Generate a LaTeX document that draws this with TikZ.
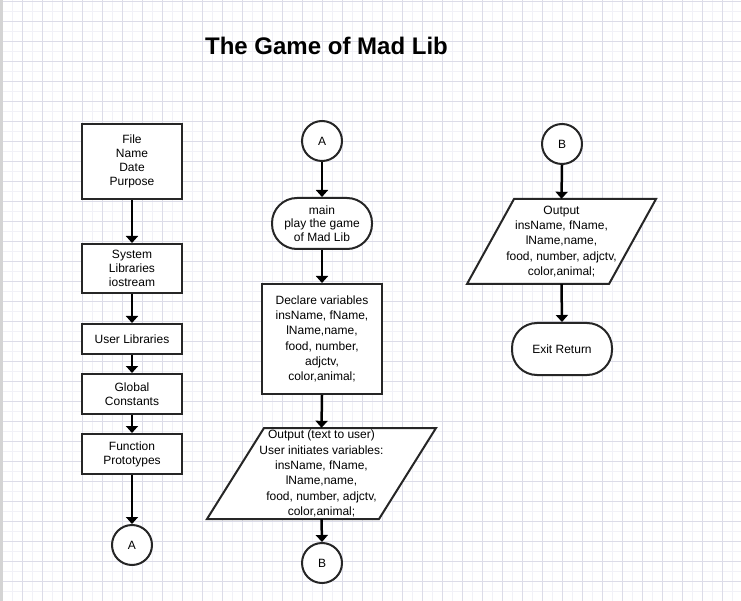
\documentclass[tikz,border=0pt]{standalone}
\usepackage{fontspec}
\setmainfont{Liberation Sans}
\usetikzlibrary{arrows.meta}
\definecolor{gmajor}{HTML}{DCDCE8}
\definecolor{gminor}{HTML}{F1F1F7}
\definecolor{edge}{HTML}{262626}
\definecolor{sidebar}{HTML}{D4D4D4}
\begin{document}
\begin{tikzpicture}[x=1pt,y=-1pt,
  every node/.style={font=\fontsize{12}{14}\selectfont, align=center, inner sep=0pt},
  procbox/.style={draw=edge, line width=2pt, fill=white, rectangle},
  conn/.style={draw=edge, line width=2pt, fill=white, circle, minimum size=40pt},
  term/.style={draw=edge, line width=2pt, fill=white, rectangle, rounded corners=25pt},
  iobox/.style={rectangle, minimum width=100pt},
  wide/.style={font=\fontsize{12}{15.3}\selectfont},
  flow/.style={draw=black, line width=2.5pt, -{Triangle[width=12pt,length=7pt]}},
]
\useasboundingbox (0,0) rectangle (741,601);
\fill[white] (0,0) rectangle (741,601);
% grid
\foreach \x in {2.7,12.7,...,741} \draw[gminor, line width=0.7pt] (\x,0) -- (\x,601);
\foreach \y in {1.7,11.7,...,601} \draw[gminor, line width=0.7pt] (0,\y) -- (741,\y);
\foreach \x in {2.7,22.7,...,741} \draw[gmajor, line width=0.8pt] (\x,0) -- (\x,601);
\foreach \y in {1.7,21.7,...,601} \draw[gmajor, line width=0.8pt] (0,\y) -- (741,\y);
\fill[sidebar] (0,0) rectangle (2.5,601);

% title
\node[font=\fontsize{24}{28}\selectfont\bfseries] (title) at (326.5,46) {The Game of Mad Lib};

% left column
\node[procbox, minimum width=100pt, minimum height=75pt] (b1) at (132,161.5) {File\\Name\\Date\\Purpose};
\node[procbox, minimum width=100pt, minimum height=49pt] (b2) at (132,268.5) {System\\Libraries\\iostream};
\node[procbox, minimum width=100pt, minimum height=30pt] (b3) at (132,339) {User Libraries};
\node[procbox, minimum width=100pt, minimum height=40pt] (b4) at (132,394) {Global\\Constants};
\node[procbox, minimum width=100pt, minimum height=40pt] (b5) at (132,454) {Function\\Prototypes};
\node[conn] (cA1) at (132,545) {A};

% middle column
\node[conn] (cA2) at (322,141) {A};
\node[term, minimum width=100pt, minimum height=51pt, font=\fontsize{12}{13.6}\selectfont] (main) at (322,223.5) {main\\play the game\\of Mad Lib};
\node[procbox, minimum width=120pt, minimum height=110pt, wide] (decl) at (322,339) {Declare variables\\insName, fName,\\lName,name,\\food, number,\\adjctv,\\color,animal;};
\draw[edge, line width=2pt, fill=white] (264,428) -- (436,428) -- (379,519) -- (207,519) -- cycle;
\node[iobox, minimum height=91pt, wide] (par1) at (321.5,473.5) {Output (text to user)\\User initiates variables:\\insName, fName,\\lName,name,\\food, number, adjctv,\\color,animal;};
\node[conn] (cB1) at (322,563) {B};

% right column
\node[conn] (cB2) at (562,144) {B};
\draw[edge, line width=2pt, fill=white] (514,199) -- (656,199) -- (609,284) -- (467,284) -- cycle;
\node[iobox, minimum height=85pt, wide] (par2) at (561.5,241.5) {Output\\insName, fName,\\lName,name,\\food, number, adjctv,\\color,animal;};
\node[term, minimum width=100pt, minimum height=52pt] (exit) at (562,349) {Exit Return};

% connectors
\draw[flow] (b1.south) -- (b2.north);
\draw[flow] (b2.south) -- (b3.north);
\draw[flow] (b3.south) -- (b4.north);
\draw[flow] (b4.south) -- (b5.north);
\draw[flow] (b5.south) -- (cA1.north);
\draw[flow] (cA2.south) -- (main.north);
\draw[flow] (main.south) -- (decl.north);
\draw[flow] (decl.south) -- (par1.north);
\draw[flow] (par1.south) -- (cB1.north);
\draw[flow] (cB2.south) -- (par2.north);
\draw[flow] (par2.south) -- (exit.north);
\end{tikzpicture}
\end{document}
